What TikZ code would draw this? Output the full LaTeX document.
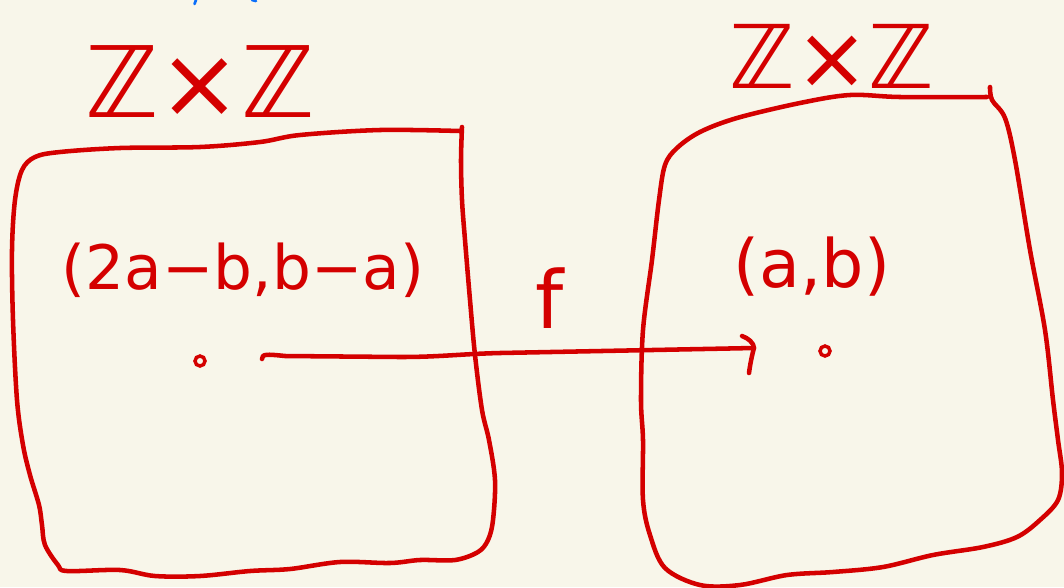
\documentclass[tikz,border=0pt]{standalone}
\usepackage{fontspec}
\setmainfont{DejaVu Sans}
\definecolor{paper}{RGB}{248,246,234}
\definecolor{ink}{RGB}{212,0,0}
\definecolor{blueink}{RGB}{10,110,250}
\begin{document}
\begin{tikzpicture}[x=0.75pt,y=-0.75pt,
  pen/.style={draw=ink,line width=3.4pt,line cap=round,line join=round},
  label/.style={text=ink,inner sep=0pt,anchor=center},
  dot/.style={circle,draw=ink,line width=2.6pt,minimum size=7.5pt,inner sep=0pt}]
  % sheet
  \fill[paper] (0,0) rectangle (1064,587);
  \useasboundingbox (0,0) rectangle (1064,587);

  % remains of a note cut off at the top edge
  \draw[blueink,line width=2pt,line cap=round] (196,0) -- (194.5,4);
  \draw[blueink,line width=2pt,line cap=round] (252,0) -- (256,1);

  % left set
  \draw[pen] plot[smooth,tension=0.55] coordinates {
    (462,127) (461,160) (462,200) (465,240) (470,300) (475,355) (482,410)
    (489,440) (495,480) (493,520) (488,540) (478,552) (455,560) (420,560)
    (390,563) (340,562) (290,569) (250,571) (200,576) (155,576) (120,570)
    (67,571) (58,565) (45,545) (42,525) (39,505) (30,475) (23,445) (17,400)
    (13,320) (12,250) (15,200) (22,170) (35,157) (60,152) (120,148) (200,147)
    (260,142) (300,135) (380,130) (460,131)};

  % right set
  \draw[pen] plot[smooth,tension=0.55] coordinates {
    (990,87) (992,100) (1005,118) (1015,160) (1030,250) (1045,330) (1053,400)
    (1058,440) (1062,473) (1058,500) (1040,520) (1017,537) (983,547) (933,555)
    (883,567) (833,572) (787,575) (740,585) (700,585) (665,568) (650,535)
    (643,500) (643,440) (641,400) (643,330) (652,260) (659,200) (665,165)
    (677,148) (700,132) (737,118) (800,103) (850,95) (900,97) (987,97)};

  % labels
  \node[label,font=\fontsize{74}{74}\selectfont] (ZL) at (200,82) {ℤ×ℤ};
  \node[label,font=\fontsize{66}{66}\selectfont] (ZR) at (832,56) {ℤ×ℤ};
  \node[label,font=\fontsize{46}{46}\selectfont] (pre) at (243,270) {(2a−b,b−a)};
  \node[label,font=\fontsize{50}{50}\selectfont] (img) at (812,267) {(a,b)};
  \node[label,font=\fontsize{60}{60}\selectfont] (f) at (550,298) {f};

  % points
  \node[dot] (p) at (200,361) {};
  \node[dot] (q) at (825,351) {};

  % the map f
  \coordinate (s) at (262,359);
  \coordinate (t) at (754,348);
  \draw[pen] (s) .. controls (262,354) and (266,354) .. (285,356)
    -- (400,357) .. controls (440,357) and (460,354) .. (500,353)
    -- (t);
  \draw[pen] (742,336) .. controls (748,338) and (754,343) .. (t)
    .. controls (752,355) and (750,365) .. (749,373);
\end{tikzpicture}
\end{document}
